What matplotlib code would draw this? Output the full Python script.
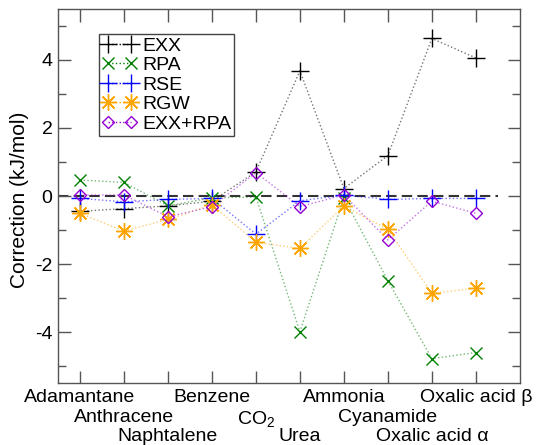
import matplotlib
matplotlib.use("Agg")
import matplotlib.pyplot as plt
import matplotlib.transforms as mtransforms
from matplotlib.ticker import MultipleLocator

plt.rcParams['font.family'] = ['Liberation Sans', 'DejaVu Sans']
plt.rcParams['mathtext.fontset'] = 'custom'
plt.rcParams['mathtext.rm'] = 'Liberation Sans'
plt.rcParams['mathtext.it'] = 'Liberation Sans'

systems = ['Adamantane', 'Anthracene', 'Naphtalene', 'Benzene', 'CO$_2$',
           'Urea', 'Ammonia', 'Cyanamide', 'Oxalic acid α', 'Oxalic acid β']
label_rows = [0, 1, 2, 0, 1, 2, 0, 1, 2, 0]

exx = [-0.45, -0.37, -0.29, -0.15, 0.71, 3.68, 0.22, 1.19, 4.63, 4.06]
rpa = [0.47, 0.40, -0.29, -0.05, -0.03, -3.99, -0.05, -2.49, -4.78, -4.60]
rse = [-0.07, -0.17, -0.10, -0.07, -1.12, -0.14, 0.03, -0.10, -0.07, -0.07]
rgw = [-0.51, -1.03, -0.69, -0.26, -1.36, -1.54, -0.29, -0.98, -2.86, -2.71]
exx_rpa = [0.03, 0.03, -0.61, -0.31, 0.69, -0.31, 0.03, -1.29, -0.15, -0.51]
ytick_vals = [-4, -2, 0, 2, 4]

series = [
    ('EXX', exx, 'black', '+', 13, 1.0),
    ('RPA', rpa, '#008000', 'x', 9, 1.0),
    ('RSE', rse, '#0000ff', '+', 13, 1.0),
    ('RGW', rgw, '#ffa500', (8, 2, 0), 12, 1.0),
    ('EXX+RPA', exx_rpa, '#9400d3', 'D', 6, 1.0),
]

fig = plt.figure(figsize=(5.37, 4.45), dpi=100)
ax = fig.add_axes([0.108, 0.139, 0.860, 0.841])

x = list(range(1, len(systems) + 1))

ax.plot([0.5, 10.5], [0, 0], color='#333333', lw=1.5, ls=(0, (5, 2.5)), zorder=1)

for name, vals, col, mk, ms, mew in series:
    ax.plot(x, vals, color=col, ls=':', lw=1.0, alpha=0.55, zorder=2)
    ax.plot(x, vals, ls='none', marker=mk, ms=ms, mew=mew, color=col,
            mfc='none' if mk == 'D' else col, mec=col, zorder=3)
    ax.plot([], [], color=col, ls=':', lw=1.0, marker=mk, ms=ms, mew=mew,
            mfc='none' if mk == 'D' else col, mec=col, label=name)

ax.set_xlim(0.5, 11.0)
ax.set_ylim(-5.5, 5.5)
ax.set_yticks(ytick_vals)
ax.set_yticklabels([str(v) for v in ytick_vals])
ax.yaxis.set_minor_locator(MultipleLocator(1))
ax.set_xticks(x)
ax.set_xticklabels([])

for sp in ax.spines.values():
    sp.set_color('#555555')
    sp.set_linewidth(1.0)

ax.tick_params(axis='both', which='both', direction='in', top=True, right=True,
               colors='#555555', labelcolor='black', labelsize=14)
ax.tick_params(axis='both', which='major', length=9, width=1.0)
ax.tick_params(axis='both', which='minor', length=6, width=1.0)
ax.tick_params(axis='y', pad=4)

ax.set_ylabel('Correction (kJ/mol)', fontsize=15)
ax.yaxis.set_label_coords(-0.063, 0.49)

trans = mtransforms.blended_transform_factory(ax.transData, ax.transAxes)
for xi, lab, row in zip(x, systems, label_rows):
    off = mtransforms.offset_copy(trans, fig=fig, x=0, y=-4.5 - row * 13.9, units='points')
    ax.text(xi, 0, lab, transform=off, ha='center', va='top', fontsize=14)

leg = ax.legend(loc='upper left', bbox_to_anchor=(0.089, 0.933), borderaxespad=0,
                numpoints=2, fontsize=14, handlelength=1.8, handletextpad=0.25,
                labelspacing=0.1, borderpad=0.15, fancybox=False, framealpha=1)
leg.get_frame().set_edgecolor('#444444')
leg.get_frame().set_linewidth(1.0)

fig.savefig('out.png', dpi=100)
